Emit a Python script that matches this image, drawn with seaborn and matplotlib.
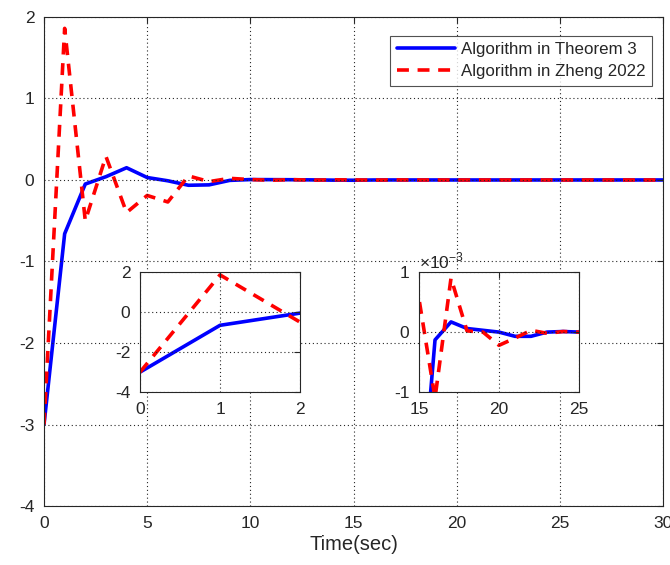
import numpy as np
import pandas as pd
import matplotlib
matplotlib.use("Agg")
import matplotlib.pyplot as plt
import seaborn as sns
from matplotlib.ticker import FuncFormatter

sns.set_style("white")
plt.rcParams['font.family'] = ['Liberation Sans', 'DejaVu Sans']
plt.rcParams['mathtext.fontset'] = 'custom'
plt.rcParams['mathtext.rm'] = 'Liberation Sans'
plt.rcParams['axes.unicode_minus'] = False

time = list(range(0, 31))
theorem3 = [-3.0, -0.66, -0.05, 0.04, 0.15, 0.03, -0.01, -0.065, -0.06, -0.005,
            0.005, 0.004, 0.003, 0.001, -0.002, -0.0033, -0.00013, 0.00017, 0.00006, 0.00003,
            0.0, -0.00007, -0.00007, 0.0, 0.00001, 0.0, 0.0, 0.0, 0.0, 0.0, 0.0]
zheng2022 = [-3.0, 1.86, -0.5, 0.29, -0.4, -0.19, -0.27, 0.05, -0.02, 0.02,
             0.005, -0.003, 0.004, -0.002, 0.002, 0.00055, -0.0011, 0.0009, 0.00002, 0.0,
             -0.00022, -0.0001, 0.00003, -0.00002, 0.00001, 0.0, 0.0, 0.0, 0.0, 0.0, 0.0]
labels = ["Algorithm in Theorem 3", "Algorithm in Zheng 2022"]

df = pd.DataFrame({
    "Time": time * 2,
    "value": theorem3 + zheng2022,
    "series": [labels[0]] * len(time) + [labels[1]] * len(time),
})

palette = {labels[0]: "#0000ff", labels[1]: "#ff0000"}
dashes = {labels[0]: "", labels[1]: (3.3, 2.4)}
TXT = "#262626"
FS = 12.5

fig = plt.figure(figsize=(6.70, 5.65), dpi=100)
ax = fig.add_axes([0.0657, 0.1044, 0.9239, 0.8656])


def style_axes(ax, fs=FS):
    for s in ax.spines.values():
        s.set_color("#262626")
        s.set_linewidth(0.8)
    ax.tick_params(direction="in", length=4, width=0.8, colors="#262626",
                   labelcolor=TXT, labelsize=fs, top=True, right=True,
                   labeltop=False, labelright=False, pad=7)
    ax.grid(True, linestyle=(0, (1, 2.5)), color="#262626", linewidth=0.8)
    ax.set_axisbelow(False)


sns.lineplot(data=df, x="Time", y="value", hue="series", style="series",
             palette=palette, dashes=dashes, linewidth=2.6, ax=ax, legend=True)
ax.set_xlim(0, 30)
ax.set_ylim(-4, 2)
ax.set_xticks(range(0, 31, 5))
ax.set_yticks(range(-4, 3))
ax.set_xlabel("Time(sec)", fontsize=14.5, color=TXT, labelpad=3)
ax.set_ylabel("")
style_axes(ax)

h, l = ax.get_legend_handles_labels()
leg = ax.legend(h, l, loc="upper right", bbox_to_anchor=(0.9825, 0.962),
                fontsize=12.2, frameon=True, fancybox=False, handlelength=3.4,
                handletextpad=0.35, borderaxespad=0.0, labelspacing=0.42, borderpad=0.4)
leg.get_frame().set_edgecolor("#262626")
leg.get_frame().set_linewidth(0.8)
for t in leg.get_texts():
    t.set_color(TXT)

# inset 1
ax1 = fig.add_axes([0.209, 0.306, 0.2388, 0.2124])
sns.lineplot(data=df, x="Time", y="value", hue="series", style="series",
             palette=palette, dashes=dashes, linewidth=2.6, ax=ax1, legend=False)
ax1.set_xlim(0, 2)
ax1.set_ylim(-4, 2)
ax1.set_xticks([0, 1, 2])
ax1.set_yticks([-4, -2, 0, 2])
ax1.set_xlabel("")
ax1.set_ylabel("")
style_axes(ax1)

# inset 2
ax2 = fig.add_axes([0.6254, 0.306, 0.2388, 0.2124])
sns.lineplot(data=df, x="Time", y="value", hue="series", style="series",
             palette=palette, dashes=dashes, linewidth=2.6, ax=ax2, legend=False)
ax2.set_xlim(15, 25)
ax2.set_ylim(-1e-3, 1e-3)
ax2.set_xticks([15, 20, 25])
ax2.set_yticks([-1e-3, 0, 1e-3])
ax2.yaxis.set_major_formatter(FuncFormatter(lambda v, p: f"{round(v * 1e3):d}"))
ax2.text(0.0, 1.01, r"$\times$10$^{-3}$", transform=ax2.transAxes,
         fontsize=FS, color=TXT, ha="left", va="bottom")
ax2.set_xlabel("")
ax2.set_ylabel("")
style_axes(ax2)

fig.savefig("out.png", dpi=100)
